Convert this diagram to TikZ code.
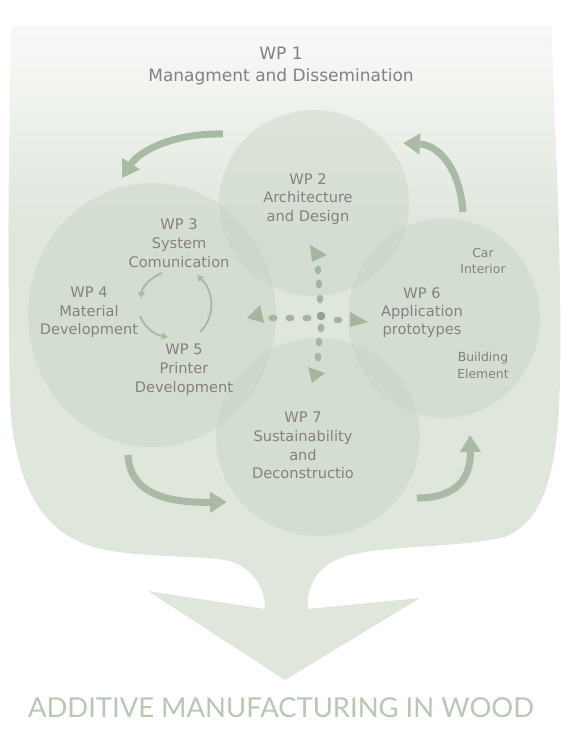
\documentclass[tikz,border=0pt]{standalone}
\usepackage{fontspec}
\setmainfont{DejaVu Sans}
\newfontfamily\titlefont{Lato}
\usetikzlibrary{arrows.meta,shapes.geometric}
\definecolor{blobcol}{HTML}{DFE6DC}
\definecolor{blobtop}{HTML}{F9FAF8}
\definecolor{circcol}{HTML}{C6D2C2}
\definecolor{arrcol}{HTML}{A9BBA4}
\definecolor{dotcol}{HTML}{A3B69E}
\definecolor{txtcol}{HTML}{868080}
\definecolor{titlecol}{HTML}{B9C7B4}
\begin{document}
\begin{tikzpicture}[x=1pt,y=-1pt,
  wp/.style={anchor=north, inner sep=0pt, align=center, text=txtcol, font=\fontsize{14.6}{18.7}\selectfont},
  wpsmall/.style={anchor=north, inner sep=0pt, align=center, text=txtcol, font=\fontsize{12.4}{16.5}\selectfont},
  circ/.style={ellipse, inner sep=0pt, fill=circcol, fill opacity=0.42, draw=none},
  bigarrow/.style={draw=arrcol, line width=7pt, -{Triangle[width=20pt,length=17pt]}},
  smallarrow/.style={draw=arrcol, line width=2pt, -{Triangle[width=7pt,length=6pt]}},
  headtri/.style={fill=dotcol, draw=none}]
\useasboundingbox (0,0) rectangle (572,745);
% background blob with down arrow
\begin{scope}
\clip (12,26) -- (551,26)
  .. controls (555,150) and (562,250) .. (560,380)
  .. controls (558,470) and (545,520) .. (505,537)
  .. controls (460,548) and (380,545) .. (343,557)
  .. controls (318,566) and (306,585) .. (308,609)
  -- (420,598) -- (285,680) -- (148,591) -- (265,609)
  .. controls (265,585) and (250,565) .. (225,560)
  .. controls (190,555) and (130,558) .. (90,546)
  .. controls (40,530) and (14,480) .. (10,400)
  .. controls (8,300) and (8,150) .. (12,26) -- cycle;
\fill[blobcol] (0,0) rectangle (572,745);
\shade[top color=blobtop, bottom color=blobcol] (0,20) rectangle (572,230);
\end{scope}
% circles
\node[circ, minimum width=248pt, minimum height=264pt] (c345) at (152,315) {};
\node[circ, minimum width=190pt, minimum height=186pt] (c2) at (314,203) {};
\node[circ, minimum width=192pt, minimum height=200pt] (c6) at (444,318) {};
\node[circ, minimum width=204pt, minimum height=198pt] (c7) at (318,437) {};
% texts
\node[wp, font=\fontsize{17}{22}\selectfont] (wp1) at (281,47) {WP 1\\Managment and Dissemination};
\node[wp, font=\fontsize{14.6}{18.5}\selectfont] (wp2) at (308,173) {WP 2\\Architecture\\and Design};
\node[wp, font=\fontsize{14.6}{19}\selectfont] (wp3) at (179,218) {WP 3\\System\\Comunication};
\node[wp, font=\fontsize{14.6}{18.5}\selectfont] (wp4) at (89,287) {WP 4\\Material\\Development};
\node[wp, font=\fontsize{14.6}{19}\selectfont] (wp5) at (184,344) {WP 5\\Printer\\Development};
\node[wp, font=\fontsize{14.6}{18}\selectfont] (wp6) at (422,287) {WP 6\\Application\\prototypes};
\node[wpsmall] (car) at (483,248) {Car\\Interior};
\node[wpsmall] (bld) at (483,352) {Building\\Element};
\node[wp] (wp7) at (303,412) {WP 7\\Sustainability\\and\\Deconstructio};
\node[anchor=base, inner sep=0pt, text=titlecol, font=\titlefont\fontsize{27.4}{30}\selectfont] (title) at (281,717) {ADDITIVE MANUFACTURING IN WOOD};
% big cycle arrows
\coordinate (a1s) at (223,134); \coordinate (a1e) at (122,178);
\coordinate (a2s) at (463,212); \coordinate (a2e) at (403,143);
\coordinate (a3s) at (128,455); \coordinate (a3e) at (227,502);
\coordinate (a4s) at (417,498); \coordinate (a4e) at (470,435);
\draw[bigarrow] (a1s) .. controls (175,133) and (140,150) .. (a1e);
\draw[bigarrow] (a2s) .. controls (460,170) and (440,145) .. (a2e);
\draw[bigarrow] (a3s) .. controls (130,495) and (170,503) .. (a3e);
\draw[bigarrow] (a4s) .. controls (455,498) and (471,480) .. (a4e);
% small cycle arrows
\coordinate (s1s) at (162,273); \coordinate (s1e) at (141,298);
\coordinate (s2s) at (140,316); \coordinate (s2e) at (168,337);
\coordinate (s3s) at (200,332); \coordinate (s3e) at (197,275);
\draw[smallarrow] (s1s) .. controls (150,278) and (142,287) .. (s1e);
\draw[smallarrow] (s2s) .. controls (145,328) and (155,335) .. (s2e);
\draw[smallarrow] (s3s) .. controls (215,318) and (215,292) .. (s3e);
% dotted cross
\foreach \p in {(318,270),(319,284),(320,299),(321,328),(319,342),(318,357)}
  \fill[dotcol] \p ellipse [x radius=3.3pt, y radius=4.4pt];
\foreach \p in {(273,318),(290,318),(307,318),(338,320)}
  \fill[dotcol] \p ellipse [x radius=4.6pt, y radius=3.4pt];
\fill[dotcol!90!black] (321,316) ellipse [x radius=4.3pt, y radius=4.3pt];
\fill[headtri] (310,245) -- (327,255) -- (312,262) -- cycle;
\fill[headtri] (308,367) -- (325,373) -- (312,383) -- cycle;
\fill[headtri] (247,318) -- (260,305) -- (264,323) -- cycle;
\fill[headtri] (350,312) -- (368,322) -- (350,327) -- cycle;
\end{tikzpicture}
\end{document}
